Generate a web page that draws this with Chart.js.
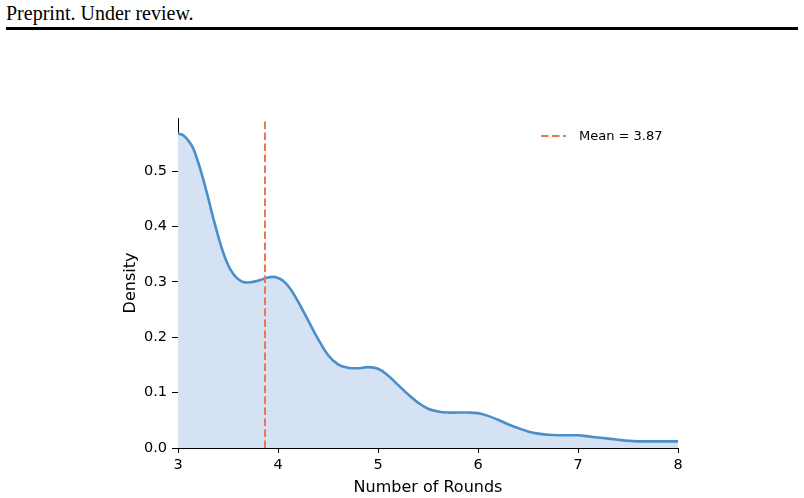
<!DOCTYPE html>
<html><head><meta charset="utf-8">
<script src="https://cdn.jsdelivr.net/npm/chart.js@4.4.1/dist/chart.umd.min.js"></script>
<style>
html,body{margin:0;padding:0;background:#fff;}
#wrap{position:relative;width:804px;height:498px;overflow:hidden;background:#fff;}
#hdr{position:absolute;left:6px;top:2px;font-family:"Liberation Serif","Times New Roman",serif;font-size:20px;color:#000;line-height:22px;white-space:nowrap;}
#rule{position:absolute;left:6px;top:27px;width:792px;height:3px;background:#000;}
canvas{position:absolute;left:0;top:0;}
</style></head><body>
<div id="wrap"><div id="hdr">Preprint. Under review.</div><div id="rule"></div><canvas id="c" width="804" height="498"></canvas></div>
<script>
const rounds = [3.00,3.05,3.10,3.15,3.20,3.25,3.30,3.35,3.40,3.45,3.50,3.55,3.60,3.65,3.70,3.75,3.80,3.85,3.90,3.95,4.00,4.05,4.10,4.15,4.20,4.25,4.30,4.40,4.50,4.60,4.70,4.80,4.90,5.00,5.10,5.20,5.30,5.40,5.50,5.60,5.70,5.80,5.90,6.00,6.10,6.20,6.30,6.40,6.50,6.60,6.70,6.80,6.90,7.00,7.10,7.20,7.30,7.40,7.50,7.60,7.80,8.00];
const density = [0.568,0.565,0.556,0.542,0.517,0.487,0.453,0.417,0.384,0.354,0.331,0.315,0.305,0.300,0.299,0.300,0.302,0.305,0.308,0.309,0.307,0.302,0.293,0.280,0.265,0.248,0.231,0.197,0.168,0.151,0.145,0.144,0.146,0.143,0.131,0.114,0.097,0.082,0.071,0.066,0.064,0.064,0.064,0.063,0.058,0.051,0.043,0.036,0.030,0.026,0.024,0.023,0.023,0.023,0.021,0.019,0.017,0.015,0.013,0.012,0.012,0.012];
const meanRounds = 3.87;
const meanLabel = 'Mean = 3.87';
const xTicks = [3,4,5,6,7,8];
const yTicks = [0.0,0.1,0.2,0.3,0.4,0.5];
const xRange = [3, 8];
const yRange = [0, 0.596];

const FONT = '"DejaVu Sans", sans-serif';

const legendPlugin = {
  id: 'meanLegend',
  afterDatasetsDraw(chart) {
    const ctx = chart.ctx, a = chart.chartArea;
    const ds = chart.data.datasets[1];
    const y = a.top + 18;
    const x0 = a.right - 137;
    ctx.save();
    ctx.strokeStyle = ds.borderColor;
    ctx.lineWidth = ds.borderWidth;
    ctx.setLineDash(ds.borderDash);
    ctx.beginPath();
    ctx.moveTo(x0, y);
    ctx.lineTo(x0 + 25, y);
    ctx.stroke();
    ctx.setLineDash([]);
    ctx.fillStyle = '#000';
    ctx.font = '13px ' + FONT;
    ctx.textBaseline = 'middle';
    ctx.textAlign = 'left';
    ctx.fillText(ds.label, x0 + 38, y + 1);
    ctx.restore();
  }
};

new Chart(document.getElementById('c').getContext('2d'), {
  type: 'line',
  data: {
    datasets: [
      {
        label: 'Density',
        data: rounds.map((x, i) => ({x: x, y: density[i]})),
        borderColor: '#4a8fca',
        backgroundColor: '#d4e2f3',
        fill: 'origin',
        borderWidth: 2.6,
        pointRadius: 0,
        tension: 0.4,
        order: 1
      },
      {
        label: meanLabel,
        data: [{x: meanRounds, y: yRange[0]}, {x: meanRounds, y: yRange[1]}],
        borderColor: '#e8794c',
        borderWidth: 2,
        borderDash: [7.5, 3.5],
        pointRadius: 0,
        fill: false,
        order: 0
      }
    ]
  },
  options: {
    responsive: false,
    animation: false,
    devicePixelRatio: 1,
    layout: {padding: {left: 120, top: 118, right: 126, bottom: 0}},
    plugins: {legend: {display: false}, tooltip: {enabled: false}},
    scales: {
      x: {
        type: 'linear', min: xRange[0], max: xRange[1],
        afterBuildTicks: s => { s.ticks = xTicks.map(v => ({value: v})); },
        afterFit: s => { s.height = 50; },
        ticks: {color: '#000', font: {family: FONT, size: 14.5}, padding: 4, callback: v => String(v), maxRotation: 0, autoSkip: false},
        grid: {drawOnChartArea: false, drawTicks: true, tickLength: 5, tickColor: '#000', tickWidth: 1},
        border: {display: true, color: '#000', width: 1},
        title: {display: true, text: 'Number of Rounds', color: '#000', font: {family: FONT, size: 16}, padding: {top: 0, bottom: 1}}
      },
      y: {
        type: 'linear', min: yRange[0], max: yRange[1],
        afterBuildTicks: s => { s.ticks = yTicks.map(v => ({value: v})); },
        afterFit: s => { s.width = 58; },
        ticks: {color: '#000', font: {family: FONT, size: 14.5}, padding: 5, callback: v => Number(v).toFixed(1), autoSkip: false},
        grid: {drawOnChartArea: false, drawTicks: true, tickLength: 6, tickColor: '#000', tickWidth: 1},
        border: {display: true, color: '#000', width: 1},
        title: {display: true, text: 'Density', color: '#000', font: {family: FONT, size: 16}, padding: {top: 1, bottom: 0}}
      }
    }
  },
  plugins: [legendPlugin]
});
</script>
</body></html>
